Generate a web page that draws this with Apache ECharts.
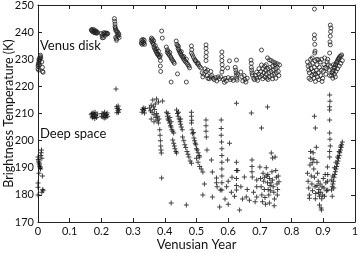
<!DOCTYPE html>
<html>
<head>
<meta charset="utf-8">
<script src="https://cdn.jsdelivr.net/npm/echarts/dist/echarts.min.js"></script>
<style>
html,body{margin:0;padding:0;background:#fff;}
#chart{width:360px;height:253px;}
</style>
</head>
<body>
<div id="chart"></div>
<script>
// Venus disk brightness temperature [venusian year, K]
var diskData = [
[0.0,226.5],[0.0,227.5],[0.002,228.5],[0.003,229],[0.004,229.5],[0.005,230],[0.006,230.5],[0.007,231],[0.008,231.5],[0.003,230],[0.005,228],[0.009,230.5],[0.002,226],[0.014,227],[0.014,225.5],[0.016,225.2],[0.012,229],[0.001,228],
[0.168,240.8],[0.17,240.5],[0.172,240.2],[0.174,240.6],[0.176,240],[0.178,239.8],[0.18,240.3],[0.182,239.7],[0.184,240],[0.186,239.6],[0.188,239.9],[0.171,241],[0.177,240.9],[0.183,240.4],
[0.2,239.5],[0.202,238.6],[0.205,239.2],[0.207,238],[0.21,239.5],[0.212,238.8],[0.214,239.7],[0.216,239.3],[0.218,239.6],[0.22,239.4],[0.208,239.8],[0.203,237.9],
[0.241,245],[0.242,244],[0.243,243],[0.243,242],[0.244,241.5],[0.246,240.5],[0.245,238],[0.247,237.5],[0.25,239],[0.252,238.5],[0.254,239.5],[0.256,238],[0.248,237],[0.251,240],[0.255,239],[0.249,240.3],[0.245,241],
[0.326,236],[0.327,237],[0.328,235.5],[0.33,236.5],[0.331,237.3],[0.332,235.8],[0.334,236.2],[0.335,237],[0.336,235.5],
[0.357,237],[0.358,237.8],[0.36,236.5],[0.362,236],[0.364,235.5],[0.366,234.5],[0.368,234],[0.37,233.5],[0.372,233],[0.374,232.5],[0.376,232],[0.378,231.8],[0.38,231.5],[0.382,231],[0.384,230.8],[0.365,236.8],[0.37,235],[0.375,233.8],[0.38,233],[0.386,231.5],[0.386,229.5],[0.386,227.5],[0.387,225.5],[0.39,240.4],[0.392,237.8],[0.361,237.4],
[0.405,234.5],[0.408,233.5],[0.41,233],[0.412,232],[0.414,231.5],[0.416,232.5],[0.418,231],[0.42,230.5],[0.422,230],[0.425,229.5],[0.428,229],[0.43,228.5],[0.408,232.5],[0.42,221.6],[0.44,224.6],[0.468,221.6],
[0.436,236.7],[0.438,235.5],[0.44,235],[0.442,234],[0.444,233.5],[0.446,233],[0.448,232.5],[0.45,232],[0.452,231.5],[0.455,231],[0.458,230.5],[0.46,230],[0.463,229.5],[0.466,229],[0.47,228.5],[0.473,228],[0.476,227.5],[0.478,226.8],[0.443,234.8],[0.452,232.8],[0.46,231],[0.468,230],
[0.484,234.9],[0.485,233.5],[0.484,232.3],
[0.487,231.6],[0.49,230.8],[0.494,230],[0.498,229.3],[0.502,228.5],[0.506,228],[0.51,227.3],[0.514,226.8],[0.496,229.5],[0.505,228.6],
[0.53,235.3],[0.53,234],[0.531,232.5],[0.53,231],[0.53,229.5],
[0.518,225],[0.52,223.5],[0.523,224.5],[0.527,226.5],[0.53,225.5],[0.533,224],[0.536,223],[0.54,222.8],[0.544,223.5],[0.548,224],[0.552,223],[0.556,222.5],[0.56,223.2],[0.564,222],[0.568,223.5],[0.572,222.8],[0.535,226],[0.545,225.5],
[0.58,232.7],[0.58,231],[0.58,229.5],[0.581,228],[0.582,226.5],[0.58,225.3],
[0.576,223.5],[0.585,222.5],[0.588,221.5],[0.59,223],[0.594,222],[0.598,226.8],[0.604,229.4],[0.6,223.2],[0.607,222.5],[0.612,223],[0.616,222.2],[0.626,229.7],
[0.622,227],[0.624,226],[0.625,225],[0.626,224],[0.627,223],[0.628,222.3],[0.63,224.5],
[0.64,225.3],[0.643,223.5],[0.646,222],[0.65,224],[0.653,222.5],[0.656,221.6],[0.66,223],
[0.672,229.7],[0.673,228.5],[0.673,227],[0.674,226],[0.675,225],[0.676,224.2],
[0.705,233.4],[0.705,227.9],
[0.68,223],[0.683,222.5],[0.686,224],[0.69,223],[0.693,222.2],[0.696,224.5],[0.7,223.5],[0.703,225.5],[0.706,224],[0.709,222.8],[0.712,225],[0.715,223.5],[0.718,226],[0.72,224.5],[0.722,223],[0.725,226.5],[0.728,225],[0.73,223.5],[0.732,227],[0.735,225.5],[0.738,224],[0.74,227.5],[0.742,226],[0.745,224.5],[0.748,228],[0.75,226.5],[0.752,225],[0.755,227],[0.758,225.5],[0.76,224],[0.724,230.5],[0.73,229.8],[0.736,229.5],[0.742,229],[0.748,228.7],[0.755,228.3],[0.762,227.9],[0.715,227.5],[0.71,226.5],[0.72,228],[0.726,222.5],[0.74,222.8],[0.75,223],[0.697,226.5],[0.69,225.2],
[0.872,248.5],
[0.872,239],[0.872,237.5],[0.873,235.5],[0.874,233],[0.873,232.3],
[0.922,242.6],[0.924,241.5],[0.923,240.2],[0.922,238.5],[0.921,236.4],[0.922,235.3],[0.92,232.3],
[0.85,229],[0.852,227.5],[0.854,226],[0.856,225],[0.858,228],[0.86,230],[0.862,226.5],[0.864,224],[0.866,228.5],[0.868,225.5],[0.87,223],[0.872,227],[0.874,229.5],[0.876,224.5],[0.878,226],[0.88,228],[0.882,223.5],[0.884,225],[0.886,222.5],[0.888,227],[0.89,229],[0.892,224],[0.894,226],[0.896,221.8],[0.898,223],[0.9,225.5],[0.902,228],[0.904,230.5],[0.906,227],[0.908,224.5],[0.91,226.5],[0.912,229],[0.914,230],[0.916,228],[0.918,226],[0.92,224],[0.922,227.5],[0.855,223],[0.86,222.5],[0.865,230.5],[0.875,221.8],[0.88,230],[0.895,230],[0.885,229.8],[0.87,224.5],
[0.926,224],[0.928,225],[0.93,225.5],[0.932,226],[0.934,226.8],[0.936,227],[0.938,227.8],[0.94,228.2],[0.942,228.8],[0.944,229.2],[0.946,229.8],[0.948,230.2],[0.95,230.5],[0.952,231],[0.955,231.2],[0.958,231.6],[0.93,223],[0.935,224.5],[0.94,225.5],[0.945,226.5],[0.95,227.5],[0.955,228.5],[0.96,229.5],[0.932,228],[0.938,223.5]
];

// deep space brightness temperature [venusian year, K]
var spaceData = [
[0.0,194],[0.001,193],[0.002,192.5],[0.003,192],[0.004,191.5],[0.005,191],[0.006,190.5],[0.007,190],[0.008,189.5],[0.009,194.5],[0.01,195.5],[0.011,196.5],[0.012,193.5],[0.003,188],[0.0,184.4],[0.014,187],[0.015,182],[0.016,181.5],[0.012,181],[0.0,182.8],[0.0,180],
[0.168,209.5],[0.17,210],[0.172,209],[0.174,210.3],[0.176,208.8],[0.178,209.6],[0.18,210.5],[0.182,209.2],[0.185,208.5],[0.187,209.8],[0.171,208.4],[0.179,208.2],
[0.2,209],[0.202,210],[0.205,208.7],[0.207,209.8],[0.21,210.5],[0.212,209.3],[0.214,208.5],[0.216,209.6],[0.218,210.2],[0.22,209],[0.209,208.3],
[0.246,219],[0.248,212.5],[0.25,211.8],[0.252,211],[0.254,210.5],[0.256,211.5],[0.249,210.3],[0.253,212.8],
[0.328,210.5],[0.33,211.5],[0.332,212],[0.334,211],[0.336,210.2],[0.338,211.8],
[0.352,212],[0.355,211],[0.357,213],[0.36,210.5],[0.362,215],[0.364,212.5],[0.366,209.5],[0.368,211.5],[0.37,213.5],[0.372,208.5],[0.374,210],[0.376,207.5],[0.378,209],[0.38,206.5],[0.382,208],[0.374,215.3],[0.38,214.2],[0.393,214.6],[0.357,208],[0.366,207],
[0.384,204],[0.385,202],[0.386,200],[0.387,198],[0.388,196.5],[0.389,195.4],[0.39,186.2],
[0.405,210.5],[0.408,209],[0.41,208],[0.412,207.5],[0.415,206.5],[0.418,205.5],[0.42,205],[0.422,204],[0.425,203.5],[0.428,202.8],[0.41,210],[0.416,208.5],[0.42,207],
[0.425,200.2],[0.428,199],[0.43,198],[0.432,197],[0.435,196],[0.437,195.4],[0.42,177],
[0.437,211.3],[0.44,210],[0.442,209],[0.445,208],[0.448,207],[0.45,206],[0.452,205],[0.455,204],[0.443,210.5],[0.45,208],
[0.456,201.3],[0.46,200],[0.463,198.5],[0.466,197.5],[0.47,196],[0.473,195],[0.476,194],[0.48,192.5],[0.484,191.7],[0.468,176.3],
[0.484,210.5],[0.484,209],[0.485,207.5],[0.484,206.5],
[0.486,204],[0.488,202.5],[0.49,203],[0.492,201],[0.494,200],[0.496,199],[0.498,198.5],[0.5,197],[0.502,196.5],[0.505,195.5],[0.508,194.5],[0.51,194],
[0.5,193.5],[0.505,192],[0.51,190.5],[0.515,189.5],[0.52,188.4],
[0.53,207.6],[0.53,205.5],[0.53,203.5],[0.531,201.3],[0.533,196.5],[0.525,184],[0.52,180],[0.547,192.9],[0.55,188.4],[0.563,186.2],[0.563,184.5],[0.565,183],[0.55,179.2],
[0.578,207.6],[0.578,204.5],[0.578,202],[0.579,199.5],[0.58,197],[0.58,194.5],[0.58,192],[0.58,189.5],[0.58,187],[0.58,184.5],[0.58,181.8],[0.575,181.8],[0.573,175.5],
[0.595,183],[0.598,192.9],[0.604,199],[0.61,181],[0.626,213.8],[0.626,192],[0.626,189],[0.626,186],[0.626,183.5],[0.626,181.8],[0.63,189],[0.636,174.4],[0.651,186.6],[0.657,179.2],[0.667,178],[0.673,210.2],[0.675,192.9],[0.675,190.5],[0.675,188.5],[0.676,186.6],[0.69,185.5],[0.69,183],[0.69,179.2],[0.705,204.7],[0.724,212.4],[0.6,185],[0.64,183],[0.645,178.5],[0.66,182],[0.68,181],[0.685,177.5],[0.62,179.5],[0.612,186.5],[0.59,178.5],[0.6,176.5],
[0.7,190.3],[0.702,186],[0.704,183],[0.706,180],[0.708,177.5],[0.71,188],[0.712,185],[0.714,182],[0.716,179],[0.718,176.5],[0.72,190],[0.722,187],[0.724,184.5],[0.726,182],[0.728,180],[0.73,186],[0.732,183.5],[0.734,181.5],[0.736,195.4],[0.738,188.5],[0.74,185.5],[0.742,183],[0.744,181],[0.746,178.5],[0.748,194],[0.75,189],[0.752,186.5],[0.754,184],[0.756,182],[0.758,187],[0.74,193.6],[0.73,177],[0.745,176],[0.715,186.5],[0.735,184.5],[0.725,187.5],[0.755,180],[0.76,184.8],
[0.85,188],[0.852,185],[0.854,182.5],[0.856,180],[0.856,178.8],[0.858,191],[0.86,193.5],[0.862,187],[0.864,184],[0.866,181.5],[0.868,195.5],[0.87,189.5],[0.872,186.5],[0.874,183],[0.876,180.5],[0.878,197.6],[0.88,192],[0.882,188],[0.884,185],[0.886,182],[0.888,179.5],[0.888,176.3],[0.89,184],[0.892,181],[0.893,175.2],[0.894,174.4],[0.896,183],[0.898,180],[0.9,186],[0.902,182.5],[0.904,179.5],[0.906,187.5],[0.908,184.5],[0.91,181.5],[0.872,209],[0.875,204.7],[0.86,196],[0.87,193],[0.88,183.5],[0.885,180.8],[0.875,178.6],[0.895,178.6],[0.865,191.8],
[0.92,216.8],[0.921,214.5],[0.92,212.5],[0.92,211.3],[0.92,207.6],[0.92,202.8],[0.921,200.5],[0.922,198],[0.92,196],[0.92,194],[0.913,190.3],[0.914,187.5],[0.913,185],[0.914,181.8],
[0.926,181.8],[0.928,183],[0.93,184],[0.932,185],[0.934,186.5],[0.936,187.5],[0.938,188.5],[0.94,189.5],[0.942,190.5],[0.944,191.5],[0.946,192.5],[0.948,193.5],[0.95,194.5],[0.952,195.5],[0.954,196.5],[0.956,197.5],[0.958,198.5],[0.96,199.5],[0.93,187],[0.935,190],[0.94,192],[0.945,194],[0.95,196],[0.955,198],[0.925,185.5],[0.933,182.5],[0.928,179.5]
];

var seriesNames = ['Venus disk', 'Deep space'];
var xName = 'Venusian Year';
var yName = 'Brightness Temperature (K)';

var FONT = 'Lato';
var plusPath = 'path://M2,0H3V2H5V3H3V5H2V3H0V2H2Z';

var myChart = echarts.init(document.getElementById('chart'));

var axisBase = {
  axisLine: { show: true, onZero: false, lineStyle: { color: '#222', width: 1 } },
  axisTick: { show: true, inside: true, length: 4, lineStyle: { color: '#222' } },
  splitLine: { show: false }
};

option = {
  animation: false,
  backgroundColor: '#fff',
  grid: { left: 38, right: 5, top: 5, bottom: 31, containLabel: false, outerBoundsMode: 'none' },
  xAxis: [
    Object.assign({}, axisBase, {
      type: 'value', min: 0, max: 1, interval: 0.1,
      name: xName, nameLocation: 'middle', nameGap: 16, nameMoveOverlap: false,
      nameTextStyle: { fontFamily: FONT, fontSize: 13, color: '#111' },
      axisLabel: { fontFamily: FONT, fontSize: 11, color: '#111', margin: 4,
        formatter: function (v) { return String(Math.round(v * 10) / 10); } }
    }),
    Object.assign({}, axisBase, {
      type: 'value', min: 0, max: 1, interval: 0.1, position: 'top',
      axisLabel: { show: false }
    })
  ],
  yAxis: [
    Object.assign({}, axisBase, {
      type: 'value', min: 170, max: 250, interval: 10,
      name: yName, nameLocation: 'middle', nameGap: 23, nameRotate: 90, nameMoveOverlap: false,
      nameTextStyle: { fontFamily: FONT, fontSize: 12.5, color: '#111' },
      axisLabel: { fontFamily: FONT, fontSize: 11, color: '#111', margin: 4 }
    }),
    Object.assign({}, axisBase, {
      type: 'value', min: 170, max: 250, interval: 10, position: 'right',
      axisLabel: { show: false }
    })
  ],
  graphic: [
    { type: 'text', left: 40, top: 39, style: { text: seriesNames[0], fontFamily: FONT, fontSize: 13, fill: '#111' } },
    { type: 'text', left: 40, top: 127, style: { text: seriesNames[1], fontFamily: FONT, fontSize: 13, fill: '#111' } }
  ],
  series: [
    {
      name: seriesNames[0], type: 'scatter', data: diskData,
      symbol: 'circle', symbolSize: 4,
      itemStyle: { color: 'rgba(255,255,255,0)', borderColor: '#222', borderWidth: 1 }
    },
    {
      name: seriesNames[1], type: 'scatter', data: spaceData,
      symbol: plusPath, symbolSize: 5,
      itemStyle: { color: '#111' }
    }
  ]
};
myChart.setOption(option);
</script>
</body>
</html>
